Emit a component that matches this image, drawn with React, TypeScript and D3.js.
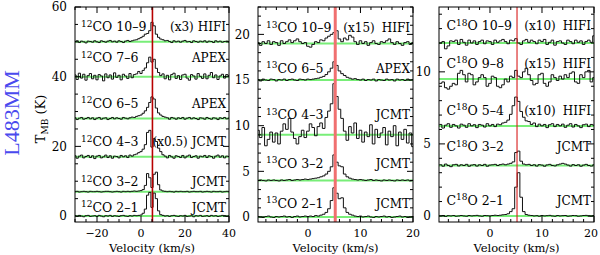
import { useEffect, useRef } from 'react'
import * as d3 from 'd3'

// channel grids (km/s): 12CO spectra at 1 km/s, isotopologues at 0.5 km/s
const CO12_V0 = -30
const CO12_DV = 1
const ISO_V0 = -9.5
const ISO_DV = 0.5
const V_LSR = 5.2

// 12CO spectra (K, relative to baseline, already scaled)
const CO12_21 = [
  0.1, -0.1, 0.2, 0, -0.2, 0.1, 0.2, -0.1, 0, 0.1,
  -0.1, 0.2, 0, -0.2, 0.1, 0, 0.2, -0.1, 0.1, 0,
  -0.1, 0.1, 0.2, 0, -0.1, 0.1, 0, 0.2, 0.1, 0.2,
  0.3, 0.8, 2.0, 6.0, 6.8, 2.5, 6.6, 5.0, 1.5, 0.4,
  0.2, 0, 0.1, -0.1, 0.1, 0.2, 0, -0.1, 0.1, 0,
  0.2, -0.1, 0, 0.1, -0.2, 0.1, 0, 0.2, -0.1, 0,
  0.1, -0.1, 0.2, 0, 0.1, -0.1, 0, 0.2, 0.1, -0.1, 0,
]
const CO12_32 = [
  0, 0.1, -0.1, 0, 0.1, 0, -0.1, 0.1, 0, 0,
  0.1, 0, -0.1, 0, 0.1, 0.1, 0, -0.1, 0, 0.1,
  0, -0.1, 0.1, 0, 0.1, 0, 0.1, 0.2, 0.1, 0.2,
  0.3, 0.6, 1.8, 5.2, 4.0, 1.2, 5.0, 5.6, 2.0, 0.5,
  0.2, 0.1, 0, 0.1, 0, -0.1, 0.1, 0, 0.1, 0,
  0, 0.1, -0.1, 0, 0.1, 0, 0, 0.1, -0.1, 0,
  0.1, 0, -0.1, 0.1, 0, 0, 0.1, -0.1, 0, 0.1, 0,
]
const CO12_43 = [
  0.3, -0.4, 0.2, 0.5, -0.3, 0.1, 0.4, -0.2, 0.3, -0.5,
  0.2, 0.4, -0.3, 0, 0.5, -0.2, 0.3, -0.4, 0.2, 0.1,
  -0.3, 0.4, 0, 0.3, -0.2, 0.5, 0.2, 0.6, 0.8, 1.2,
  1.5, 2.2, 3.5, 7.0, 7.6, 2.8, 5.2, 4.4, 2.5, 1.5,
  0.6, 0.2, -0.3, 0.4, 0, -0.4, 0.3, 0.1, -0.2, 0.4,
  -0.3, 0.2, 0.5, -0.2, 0.1, 0.3, -0.4, 0.2, 0, 0.4,
  -0.2, 0.3, 0.1, -0.4, 0.2, 0.5, -0.1, 0.3, -0.3, 0.2, 0.1,
]
const CO12_65 = [
  0.2, -0.3, 0.1, 0.3, -0.2, 0, 0.3, -0.1, 0.2, -0.3,
  0.1, 0.3, -0.2, 0.1, 0.2, -0.3, 0, 0.3, -0.1, 0.2,
  0, -0.2, 0.3, 0.1, -0.1, 0.2, 0.4, 0.3, 0.6, 0.8,
  1.0, 1.5, 2.2, 3.2, 4.6, 6.2, 5.6, 3.0, 1.6, 1.0,
  0.6, 0.4, 0.2, -0.2, 0.3, 0.1, -0.2, 0.2, 0, 0.3,
  -0.2, 0.1, 0.3, -0.1, 0.2, 0, -0.3, 0.2, 0.1, -0.2,
  0.3, 0, -0.2, 0.2, 0.1, -0.3, 0.2, 0, 0.3, -0.1, 0.1,
]
const CO12_76 = [
  0.5, -0.8, 1.0, -0.4, 0.7, -1.0, 0.3, 0.9, -0.6, 0.4,
  -0.9, 0.6, 0.2, -1.2, 0.8, -0.3, 0.5, -0.7, 1.1, -0.2,
  0.4, -0.9, 0.7, 0.2, -0.5, 0.9, -0.3, 0.6, 0.8, 1.5,
  0.9, 1.8, 2.5, 4.0, 5.6, 4.2, 5.0, 2.4, 1.2, 0.3,
  0.8, -0.6, 0.4, -0.9, 0.6, 1.0, -0.5, 0.3, -0.8, 0.5,
  0.7, -0.4, -1.0, 0.6, 0.2, -0.7, 0.9, 0.1, -0.5, 0.8,
  -0.6, 0.4, 1.2, -0.3, 0.5, -0.8, 0.2, 0.7, -0.4, 0.6, 0.3,
]
const CO12_109 = [
  0.1, 0.3, -0.2, 0.2, 0, -0.3, 0.2, 0.1, -0.1, 0.3,
  0, -0.2, 0.3, 0.1, -0.1, 0.2, 0.4, 0, 0.2, -0.1,
  0.3, 0.1, -0.2, 0.2, 0.4, 0.1, 0.3, 0.5, 0.6, 0.9,
  1.2, 1.6, 2.2, 2.4, 3.2, 5.6, 4.6, 2.2, 1.3, 0.8,
  0.6, 0.3, 0.4, 0.1, -0.2, 0.3, 0, 0.2, -0.1, 0.2,
  0.4, 0, 0.1, -0.2, 0.3, 0.1, -0.1, 0.2, 0, 0.3,
  -0.1, 0.2, 0.1, -0.2, 0.3, 0, 0.2, -0.1, 0.1, 0.2, 0,
]

// 13CO spectra
const CO13_21 = [
  0.05, 0, -0.05, 0.05, 0.1, 0, -0.05, 0.05, 0, 0.05,
  0.1, 0, 0.05, -0.05, 0.05, 0.1, 0, 0.05, 0.1, 0.05,
  0.1, 0.05, 0.15, 0.1, 0.2, 0.3, 0.5, 0.9, 1.8, 3.2,
  2.6, 2.0, 2.1, 1.0, 0.5, 0.3, 0.2, 0.1, 0.05, 0.1,
  0, 0.05, 0.1, 0, -0.05, 0.05, 0, 0.05, 0.1, 0,
  0.05, -0.05, 0, 0.05, 0.1, 0, 0.05, -0.05, 0, 0.05,
]
const CO13_32 = [
  0, 0.05, 0, -0.05, 0.05, 0, 0.05, 0, -0.05, 0.05,
  0, 0.05, 0.1, 0, 0.05, 0.1, 0.05, 0.1, 0.15, 0.1,
  0.15, 0.2, 0.25, 0.3, 0.4, 0.5, 0.7, 1.0, 1.5, 2.8,
  2.0, 1.6, 1.5, 0.7, 0.4, 0.25, 0.15, 0.1, 0.05, 0.1,
  0.05, 0, 0.05, 0.1, 0, 0.05, 0, -0.05, 0.05, 0,
  0.05, 0, -0.05, 0.05, 0, 0.05, 0, 0.05, -0.05, 0,
]
const CO13_43 = [
  0.5, -0.3, 0.8, -1.2, -0.5, 0.3, -0.8, 0.2, -1.0, 0.4,
  1.2, 0.6, 1.8, 0.3, -0.4, -1.0, -0.2, 0.5, -0.3, 0.4,
  1.2, 0.8, -0.1, 0.9, 1.3, 0.7, 1.9, 2.6, 3.4, 5.6,
  4.2, 2.8, 1.8, 0.4, -0.6, 0.9, 0.2, 1.3, -0.4, 0.5,
  -0.8, 0.3, -0.2, 1.1, -1.0, 0.6, -0.3, 0.2, 0.8, -1.1,
  0.4, -0.2, 1.0, -1.2, 0.3, -0.5, 0.6, -0.9, 0.2, -1.3,
]
const CO13_65 = [
  0.05, -0.1, 0.1, 0, -0.05, 0.1, 0.05, -0.1, 0.05, 0,
  0.1, -0.05, 0.05, 0.1, 0, -0.05, 0.1, 0.05, 0, 0.1,
  0.05, 0.1, 0.15, 0.2, 0.3, 0.4, 0.6, 0.9, 1.3, 2.0,
  1.6, 1.0, 0.7, 0.5, 0.3, 0.2, 0.1, 0.15, 0.05, 0,
  0.1, -0.05, 0.05, 0, 0.1, -0.1, 0.05, 0, -0.05, 0.1,
  0, 0.05, -0.1, 0.1, 0, 0.05, -0.05, 0.1, 0, 0.05,
]
const CO13_109 = [
  0.1, -0.2, 0.2, 0, 0.3, -0.1, 0.2, 0.1, -0.2, 0.3,
  0, 0.2, 0.4, 0.1, 0.3, 0.5, 0.2, 0, 0.1, -0.3,
  -0.4, -0.1, 0.2, 0.1, 0.4, 0.3, 0.6, 0.8, 1.0, 1.2,
  1.4, 0.5, 0.2, 0.6, 0.4, 0.9, 0.7, 0.2, -0.1, 0.3,
  0, 0.2, -0.2, 0.1, 0.3, 0, -0.1, 0.2, 0.1, 0.3,
  0.5, 0.1, -0.1, 0.2, 0, -0.2, 0.1, 0.2, -0.1, 0.1,
]

// C18O spectra
const C18O_21 = [
  0, 0.03, -0.03, 0.02, 0, 0.03, -0.02, 0, 0.03, 0,
  -0.02, 0.03, 0, 0.02, 0.04, 0, -0.02, 0.03, 0.02, 0,
  0.03, 0.05, 0.03, 0.05, 0.08, 0.1, 0.15, 0.3, 0.5, 2.0,
  3.0, 1.3, 0.3, 0.1, 0.05, 0.03, 0, 0.02, -0.02, 0.03,
  0, 0.02, 0.04, 0, -0.02, 0.03, 0, 0.02, 0.03, -0.02,
  0, 0.03, 0.02, -0.02, 0, 0.03, 0.04, 0, -0.02, 0.03,
]
const C18O_32 = [
  0.05, -0.05, 0.1, 0, -0.08, 0.05, 0.08, -0.03, 0.05, 0,
  0.08, -0.05, 0.03, 0.06, -0.04, 0.05, 0, 0.08, -0.05, 0.03,
  0.05, 0.08, 0, 0.06, 0.1, 0.05, 0.1, 0.15, 0.25, 0.9,
  1.0, 0.3, 0.1, 0.05, 0.08, 0, 0.05, -0.04, 0.06, 0.03,
  -0.05, 0.04, 0.08, 0, -0.03, 0.05, 0.1, 0.15, 0.1, 0.03,
  -0.04, 0.06, 0, 0.05, -0.05, 0.03, 0.08, 0, -0.04, 0.05,
]
const C18O_54 = [
  0.1, -0.15, 0.05, 0.15, -0.1, 0.1, 0, -0.15, 0.12, 0.05,
  -0.1, 0.15, 0, 0.08, -0.12, 0.1, 0.05, -0.08, 0.15, 0,
  0.1, -0.05, 0.12, 0.08, 0.2, 0.25, 0.4, 0.8, 1.4, 2.0,
  1.7, 1.0, 0.6, 0.35, 0.3, 0.1, 0.2, -0.05, 0.12, 0,
  0.1, -0.12, 0.08, 0.15, -0.05, 0.1, 0, 0.12, -0.1, 0.05,
  0.15, -0.08, 0.1, 0, -0.12, 0.08, 0.12, -0.05, 0.1, 0.05,
]
const C18O_98 = [
  -0.3, -0.2, -0.6, -0.7, -0.5, -0.3, -0.4, 0.4, 0.6, 0.3,
  -0.2, 0.4, 0.3, -0.4, -0.2, 0.1, 0.3, 0.1, -0.5, -0.3,
  0.2, 0.1, -0.5, -0.6, -0.4, 0, -0.2, 0.2, 0.1, 0.6,
  0.2, 0.1, 0.5, 0.75, 0.3, -0.1, -0.4, -0.3, 0.3, 0.4,
  -0.3, -0.5, -0.2, 0.3, 0.1, -0.1, 0.2, 0, 0.3, 0.1,
  0.4, 0.5, -0.2, -0.3, 0.3, 0.1, 0.5, 0.6, -0.2, 0.1,
]
const C18O_109 = [
  0, 0.1, -0.4, -0.2, 0.15, 0.1, 0.2, -0.1, 0.25, 0.05,
  -0.15, 0.2, 0, 0.15, -0.1, 0.1, 0.2, -0.05, 0.15, 0.1,
  -0.1, 0.2, 0.05, 0.15, 0.25, 0.1, -0.05, 0.2, 0.15, 0.3,
  0, -0.1, 0.15, 0.25, 0.05, 0.2, 0.1, -0.05, 0.2, 0.1,
  0.25, -0.1, 0.05, 0.2, -0.15, 0.1, 0.15, 0, -0.1, 0.2,
  0.1, -0.05, 0.2, 0.05, 0.15, -0.1, 0.1, 0.2, 0.05, 0.5,
]

interface Spec {
  pre: string
  sup: string
  post: string
  trans: string
  base: number
  tag: string
  tel: string
  values: number[]
  labelY: number
}

const PANEL1: Spec[] = [
  { pre: '', sup: '12', post: 'CO', trans: '10–9', base: 50, tag: '(x3)', tel: 'HIFI', values: CO12_109, labelY: 54.3 },
  { pre: '', sup: '12', post: 'CO', trans: '7–6', base: 40, tag: '', tel: 'APEX', values: CO12_76, labelY: 45.4 },
  { pre: '', sup: '12', post: 'CO', trans: '6–5', base: 28, tag: '', tel: 'APEX', values: CO12_65, labelY: 32.4 },
  { pre: '', sup: '12', post: 'CO', trans: '4–3', base: 17, tag: '(x0.5)', tel: 'JCMT', values: CO12_43, labelY: 21.3 },
  { pre: '', sup: '12', post: 'CO', trans: '3–2', base: 7, tag: '', tel: 'JCMT', values: CO12_32, labelY: 9.8 },
  { pre: '', sup: '12', post: 'CO', trans: '2–1', base: 0, tag: '', tel: 'JCMT', values: CO12_21, labelY: 2.6 },
]
const PANEL2: Spec[] = [
  { pre: '', sup: '13', post: 'CO', trans: '10–9', base: 19, tag: '(x15)', tel: 'HIFI', values: CO13_109, labelY: 20.7 },
  { pre: '', sup: '13', post: 'CO', trans: '6–5', base: 15, tag: '', tel: 'APEX', values: CO13_65, labelY: 16.3 },
  { pre: '', sup: '13', post: 'CO', trans: '4–3', base: 9, tag: '', tel: 'JCMT', values: CO13_43, labelY: 11.2 },
  { pre: '', sup: '13', post: 'CO', trans: '3–2', base: 4, tag: '', tel: 'JCMT', values: CO13_32, labelY: 5.9 },
  { pre: '', sup: '13', post: 'CO', trans: '2–1', base: 0, tag: '', tel: 'JCMT', values: CO13_21, labelY: 1.5 },
]
const PANEL3: Spec[] = [
  { pre: 'C', sup: '18', post: 'O', trans: '10–9', base: 12, tag: '(x10)', tel: 'HIFI', values: C18O_109, labelY: 13.2 },
  { pre: 'C', sup: '18', post: 'O', trans: '9–8', base: 9.5, tag: '(x15)', tel: 'HIFI', values: C18O_98, labelY: 10.6 },
  { pre: 'C', sup: '18', post: 'O', trans: '5–4', base: 6.25, tag: '(x10)', tel: 'HIFI', values: C18O_54, labelY: 7.35 },
  { pre: 'C', sup: '18', post: 'O', trans: '3–2', base: 3.5, tag: '', tel: 'JCMT', values: C18O_32, labelY: 4.8 },
  { pre: 'C', sup: '18', post: 'O', trans: '2–1', base: 0, tag: '', tel: 'JCMT', values: C18O_21, labelY: 1.1 },
]

const TOP = 7
const BOTTOM = 222
const FONT = 'DejaVu Serif'
const GREEN = '#78ee78'

const PANELS = [
  { left: 75, right: 229, xDom: [-30, 40], yDom: [-1.7, 60], xMajor: 20, xMinor: 5, yMajor: 20, yMinor: 5,
    v0: CO12_V0, dv: CO12_DV, red: '#b80000', redW: 1.6, labelDx: 6, tagGap: 4, specs: PANEL1 },
  { left: 258, right: 413, xDom: [-9.5, 20], yDom: [-0.55, 23], xMajor: 10, xMinor: 2, yMajor: 5, yMinor: 1,
    v0: ISO_V0, dv: ISO_DV, red: '#f07070', redW: 3, labelDx: 8, tagGap: 7, specs: PANEL2 },
  { left: 439, right: 594, xDom: [-9.8, 20], yDom: [-0.42, 14.5], xMajor: 10, xMinor: 2, yMajor: 5, yMinor: 1,
    v0: ISO_V0, dv: ISO_DV, red: '#d81c1c', redW: 1.1, labelDx: 7.5, tagGap: 7, specs: PANEL3 },
]

const fmt = (v: number) => (v < 0 ? '−' + Math.abs(v) : String(v))

export default function App() {
  const ref = useRef<SVGSVGElement>(null)

  useEffect(() => {
    if (!ref.current) return
    const svg = d3.select(ref.current)
    svg.selectAll('*').remove()

    PANELS.forEach((p, pi) => {
      const x = d3.scaleLinear().domain(p.xDom).range([p.left, p.right])
      const y = d3.scaleLinear().domain(p.yDom).range([BOTTOM, TOP])
      const g = svg.append('g')

      const clipId = `clip-${pi}`
      g.append('clipPath').attr('id', clipId).append('rect')
        .attr('x', p.left).attr('y', TOP).attr('width', p.right - p.left).attr('height', BOTTOM - TOP)
      const inner = g.append('g').attr('clip-path', `url(#${clipId})`)

      // baselines
      p.specs.forEach(s => {
        inner.append('line')
          .attr('x1', p.left).attr('x2', p.right)
          .attr('y1', y(s.base)).attr('y2', y(s.base))
          .attr('stroke', GREEN).attr('stroke-width', 2)
      })

      // spectra as histograms
      p.specs.forEach(s => {
        const pts: [number, number][] = s.values.flatMap((t, i) => {
          const v = p.v0 + i * p.dv
          return [[v - p.dv / 2, t + s.base], [v + p.dv / 2, t + s.base]] as [number, number][]
        })
        const line = d3.line<[number, number]>().x(d => x(d[0])).y(d => y(d[1]))
        inner.append('path').attr('d', line(pts)).attr('fill', 'none')
          .attr('stroke', '#111').attr('stroke-width', 1)
      })

      // systemic velocity
      inner.append('line')
        .attr('x1', x(V_LSR)).attr('x2', x(V_LSR)).attr('y1', TOP).attr('y2', BOTTOM)
        .attr('stroke', p.red).attr('stroke-width', p.redW)

      // frame
      g.append('rect').attr('x', p.left).attr('y', TOP)
        .attr('width', p.right - p.left).attr('height', BOTTOM - TOP)
        .attr('fill', 'none').attr('stroke', '#000').attr('stroke-width', 1)

      const isMajor = (v: number, m: number) => Math.abs(v / m - Math.round(v / m)) < 1e-6
      const xt = d3.range(Math.ceil(p.xDom[0] / p.xMinor) * p.xMinor, p.xDom[1] + 1e-6, p.xMinor)
      xt.forEach(v => {
        const len = isMajor(v, p.xMajor) ? 6 : 3
        const xx = x(v)
        g.append('line').attr('x1', xx).attr('x2', xx).attr('y1', BOTTOM).attr('y2', BOTTOM - len).attr('stroke', '#000')
        g.append('line').attr('x1', xx).attr('x2', xx).attr('y1', TOP).attr('y2', TOP + len).attr('stroke', '#000')
        if (isMajor(v, p.xMajor)) {
          g.append('text').attr('x', Math.min(xx, 591)).attr('y', 236.5).attr('text-anchor', 'middle')
            .attr('font-family', FONT).attr('font-size', 11).text(fmt(v))
        }
      })
      const yt = d3.range(Math.ceil(p.yDom[0] / p.yMinor) * p.yMinor, p.yDom[1] + 1e-6, p.yMinor)
      yt.forEach(v => {
        const len = isMajor(v, p.yMajor) ? 6 : 3
        const yy = y(v)
        g.append('line').attr('x1', p.left).attr('x2', p.left + len).attr('y1', yy).attr('y2', yy).attr('stroke', '#000')
        g.append('line').attr('x1', p.right).attr('x2', p.right - len).attr('y1', yy).attr('y2', yy).attr('stroke', '#000')
        if (isMajor(v, p.yMajor)) {
          g.append('text').attr('x', p.left - 8).attr('y', yy + 4.3).attr('text-anchor', 'end')
            .attr('font-family', FONT).attr('font-size', 12).text(fmt(v))
        }
      })

      // line labels
      p.specs.forEach(s => {
        const ly = y(s.labelY) + 4.5
        const t = g.append('text').attr('x', p.left + p.labelDx).attr('y', ly)
          .attr('font-family', FONT).attr('font-size', 12.5)
        if (s.pre) t.append('tspan').text(s.pre)
        t.append('tspan').attr('font-size', 9).attr('dy', -4.5).text(s.sup)
        t.append('tspan').attr('dy', 4.5).text(`${s.post} ${s.trans}`)

        const r = g.append('text').attr('x', p.right - 3).attr('y', ly).attr('text-anchor', 'end')
          .attr('font-family', FONT).attr('font-size', 12)
        if (s.tag) r.append('tspan').text(s.tag)
        r.append('tspan').attr('dx', s.tag ? p.tagGap : 0).text(s.tel)
      })

      g.append('text').attr('x', (p.left + p.right) / 2).attr('y', 252).attr('text-anchor', 'middle')
        .attr('font-family', FONT).attr('font-size', 11.5).text('Velocity (km/s)')
    })

    // y axis title
    const yl = svg.append('text').attr('transform', 'translate(45,119) rotate(-90)')
      .attr('text-anchor', 'middle').attr('font-family', FONT).attr('font-size', 13)
    yl.append('tspan').text('T')
    yl.append('tspan').attr('font-size', 9).attr('dy', 3).text('MB')
    yl.append('tspan').attr('dy', -3).text(' (K)')

    svg.append('text').attr('transform', 'translate(19,113) rotate(-90)')
      .attr('text-anchor', 'middle').attr('font-family', 'Liberation Serif').attr('font-size', 22)
      .attr('fill', '#4a4aee').text('L483MM')
  }, [])

  return (
    <svg ref={ref} width={600} height={255}
      style={{ position: 'absolute', left: 0, top: 0, background: '#fff' }} />
  )
}
